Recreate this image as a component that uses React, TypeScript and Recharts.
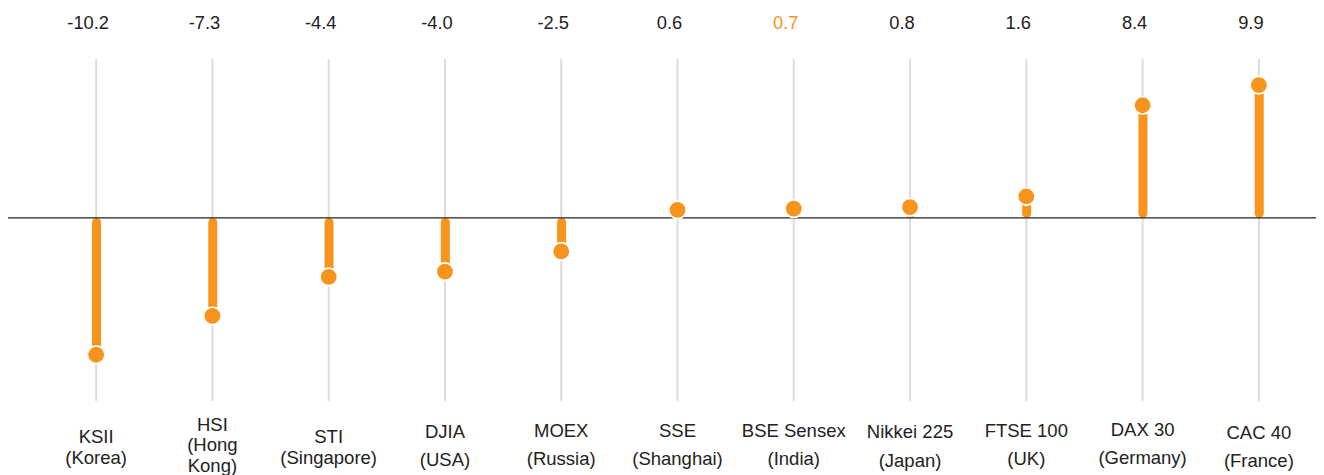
import React from 'react';
import { ComposedChart, Bar, Line, XAxis, YAxis, CartesianGrid, ReferenceLine } from 'recharts';

const indexNames = ['KSII', 'HSI', 'STI', 'DJIA', 'MOEX', 'SSE', 'BSE Sensex', 'Nikkei 225', 'FTSE 100', 'DAX 30', 'CAC 40'];
const labelLines = [
  ['KSII', '(Korea)'],
  ['HSI', '(Hong', 'Kong)'],
  ['STI', '(Singapore)'],
  ['DJIA', '(USA)'],
  ['MOEX', '(Russia)'],
  ['SSE', '(Shanghai)'],
  ['BSE Sensex', '(India)'],
  ['Nikkei 225', '(Japan)'],
  ['FTSE 100', '(UK)'],
  ['DAX 30', '(Germany)'],
  ['CAC 40', '(France)'],
];
const changes = [-10.2, -7.3, -4.4, -4.0, -2.5, 0.6, 0.7, 0.8, 1.6, 8.4, 9.9];
const highlighted = 'BSE Sensex';

const data = indexNames.map((name, i) => ({ name, value: changes[i] }));

const ORANGE = '#F7941D';
const TEXT = '#222222';
const FONT = '"Liberation Sans", Arial, sans-serif';

// per-label vertical layout (first baseline offset from axis top, line gap)
const tickLayout = [
  { first: 41.5, gap: 21 },
  { first: 29.8, gap: 20.5 },
  { first: 41.5, gap: 21 },
  { first: 37, gap: 27.5 },
  { first: 35.5, gap: 28 },
  { first: 35.5, gap: 28 },
  { first: 35.5, gap: 28 },
  { first: 37, gap: 28.5 },
  { first: 35.5, gap: 28.5 },
  { first: 34.5, gap: 28 },
  { first: 38, gap: 28 },
];

const BottomTick = (props: any) => {
  const { x, y, payload } = props;
  const i = payload.index;
  const lines = labelLines[i];
  const lay = tickLayout[i];
  return (
    <g>
      {lines.map((t, j) => (
        <text
          key={j}
          x={x}
          y={y}
          dy={lay.first + j * lay.gap}
          textAnchor="middle"
          fontSize={18.5}
          fontFamily={FONT}
          fill={TEXT}
        >
          {t}
        </text>
      ))}
    </g>
  );
};

const TopTick = (props: any) => {
  const { x, y, payload } = props;
  const i = payload.index;
  const v = changes[i];
  return (
    <text
      x={x}
      y={y}
      dx={-8}
      dy={-30.5}
      textAnchor="middle"
      fontSize={18.3}
      fontFamily={FONT}
      fill={indexNames[i] === highlighted ? ORANGE : TEXT}
    >
      {v.toFixed(1)}
    </text>
  );
};

export default function App() {
  return (
    <>
      <style>{'html,body{overflow:hidden}'}</style>
      <ComposedChart
        width={1316}
        height={467}
        data={data}
        margin={{ top: 0, right: 0, bottom: 0, left: 0 }}
      >
        <CartesianGrid horizontal={false} syncWithTicks stroke="#dcdcdc" strokeWidth={2} />
        <XAxis
          xAxisId="top"
          dataKey="name"
          orientation="top"
          height={51}
          axisLine={false}
          tickLine={false}
          tickSize={0}
          tickMargin={0}
          interval={0}
          padding={{ left: 30, right: 7 }}
          tick={<TopTick />}
        />
        <XAxis
          dataKey="name"
          height={74}
          axisLine={false}
          tickLine={false}
          tickSize={0}
          tickMargin={0}
          interval={0}
          padding={{ left: 30, right: 7 }}
          tick={<BottomTick />}
        />
        <YAxis hide domain={[-13.65, 11.85]} allowDataOverflow type="number" />
        <Bar dataKey="value" barSize={9} fill={ORANGE} radius={4.5} isAnimationActive={false} />
        <ReferenceLine y={0} stroke="#222" strokeWidth={1.3} />
        <Line
          dataKey="value"
          stroke="none"
          strokeWidth={0}
          dot={{ r: 8.8, fill: ORANGE, stroke: '#ffffff', strokeWidth: 1.8 }}
          activeDot={false}
          isAnimationActive={false}
        />
      </ComposedChart>
    </>
  );
}
